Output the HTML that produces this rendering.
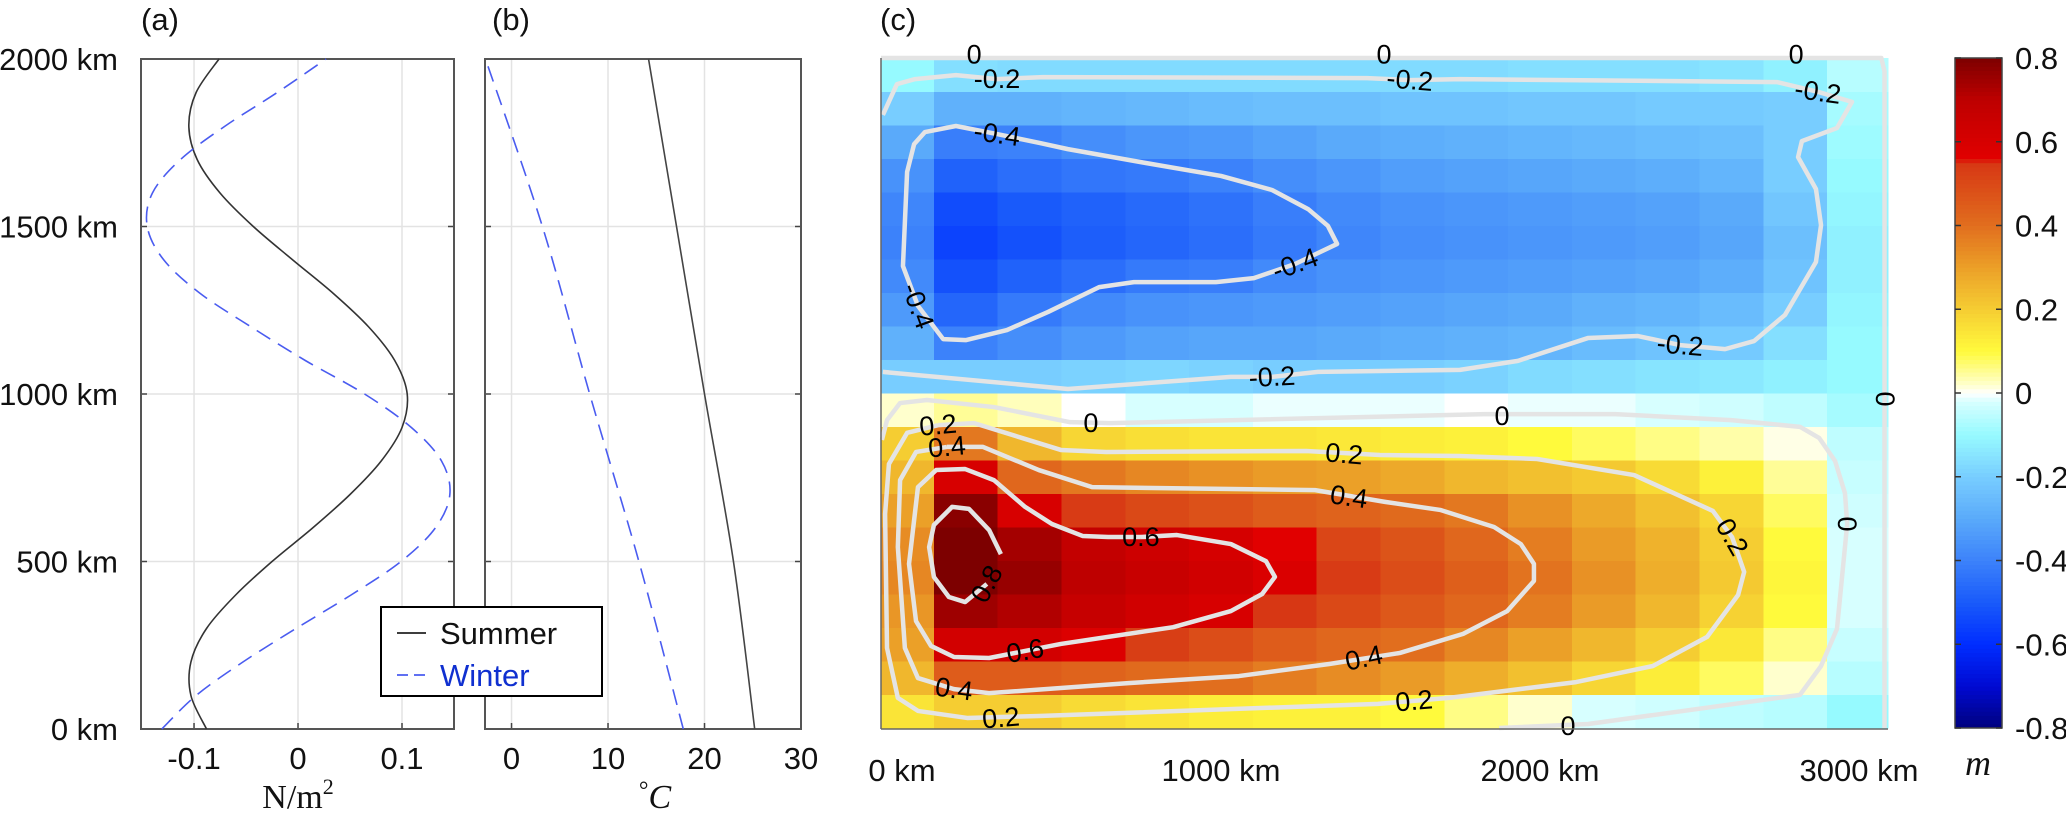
<!DOCTYPE html>
<html><head><meta charset="utf-8"><style>
html,body{margin:0;padding:0;background:#fff;}
svg{display:block;font-family:"Liberation Sans",Arial,sans-serif;}
</style></head><body>
<svg id="fig" width="2066" height="822" viewBox="0 0 2066 822" xmlns="http://www.w3.org/2000/svg">
<g id="pa"></g>
<g id="pb"></g>
<g id="pc"></g>
<g id="cb"></g>
</svg>
<script>
// ---------- Panel a data ----------
const yKm = [0,100,200,300,400,500,600,700,800,900,1000,1100,1200,1300,1400,1500,1600,1700,1800,1900,2000];
const stressSummer = [-0.088,-0.103,-0.103,-0.088,-0.06,-0.025,0.014,0.05,0.08,0.1,0.105,0.093,0.068,0.034,-0.005,-0.043,-0.075,-0.097,-0.105,-0.098,-0.076];
const stressWinter = [-0.131,-0.098,-0.053,-0.002,0.051,0.099,0.132,0.146,0.138,0.109,0.064,0.007,-0.045,-0.094,-0.129,-0.145,-0.14,-0.113,-0.07,-0.02,0.027];
const stressTicks = [-0.1,0,0.1];
const stressTickLabels = ["-0.1","0","0.1"];
const yTicks = [0,500,1000,1500,2000];
const yTickLabels = ["0 km","500 km","1000 km","1500 km","2000 km"];
// ---------- Panel b data ----------
const tempY = [0,500,1000,1500,2000];
const tempSummer = [25.2,23.0,20.0,17.1,14.2];
const tempWinter = [17.8,13.2,8.1,3.2,-2.7];
const tempTicks = [0,10,20,30];
const tempTickLabels = ["0","10","20","30"];
// ---------- Panel c data ----------
const gridX = [0,200,400,600,800,1000,1200,1400,1600,1800,2000,2200,2400,2600,2800,3000];
const gridY = [50,150,250,350,450,550,650,750,850,950,1050,1150,1250,1350,1450,1550,1650,1750,1850,1950];
const row0050 = [0.15,0.2,0.2,0.17,0.15,0.13,0.12,0.12,0.1,0.06,0.02,-0.02,-0.03,-0.05,-0.06,-0.1];
const row0150 = [0.25,0.45,0.45,0.43,0.41,0.4,0.37,0.34,0.31,0.27,0.23,0.18,0.13,0.08,0.02,-0.06];
const row0250 = [0.3,0.62,0.62,0.58,0.53,0.49,0.45,0.42,0.4,0.35,0.3,0.25,0.2,0.14,0.06,-0.04];
const row0350 = [0.32,0.75,0.72,0.67,0.63,0.6,0.55,0.5,0.46,0.42,0.37,0.31,0.25,0.19,0.1,-0.02];
const row0450 = [0.35,0.85,0.76,0.7,0.66,0.63,0.59,0.54,0.49,0.44,0.39,0.33,0.27,0.21,0.11,-0.02];
const row0550 = [0.34,0.85,0.74,0.68,0.64,0.61,0.56,0.51,0.47,0.42,0.37,0.31,0.26,0.2,0.1,-0.02];
const row0650 = [0.3,0.78,0.6,0.54,0.5,0.48,0.45,0.43,0.41,0.38,0.33,0.28,0.23,0.18,0.08,-0.03];
const row0750 = [0.25,0.6,0.42,0.38,0.35,0.33,0.31,0.3,0.28,0.25,0.23,0.21,0.17,0.12,0.05,-0.04];
const row0850 = [0.2,0.38,0.25,0.18,0.16,0.15,0.15,0.14,0.13,0.12,0.1,0.08,0.06,0.04,0.01,-0.05];
const row0950 = [0.02,0.05,0.03,0.0,-0.02,-0.02,-0.01,-0.01,-0.01,0.0,-0.01,-0.01,-0.02,-0.03,-0.05,-0.08];
const row1050 = [-0.2,-0.2,-0.2,-0.19,-0.18,-0.19,-0.2,-0.2,-0.2,-0.19,-0.17,-0.16,-0.15,-0.14,-0.12,-0.1];
const row1150 = [-0.28,-0.4,-0.37,-0.34,-0.32,-0.31,-0.31,-0.3,-0.29,-0.28,-0.27,-0.25,-0.23,-0.21,-0.16,-0.1];
const row1250 = [-0.34,-0.47,-0.42,-0.38,-0.36,-0.35,-0.34,-0.33,-0.32,-0.31,-0.3,-0.28,-0.27,-0.25,-0.2,-0.11];
const row1350 = [-0.38,-0.52,-0.48,-0.45,-0.42,-0.41,-0.38,-0.36,-0.35,-0.34,-0.33,-0.32,-0.31,-0.29,-0.23,-0.12];
const row1450 = [-0.4,-0.55,-0.52,-0.49,-0.47,-0.45,-0.42,-0.39,-0.37,-0.36,-0.35,-0.34,-0.33,-0.31,-0.24,-0.12];
const row1550 = [-0.39,-0.53,-0.5,-0.48,-0.46,-0.44,-0.41,-0.38,-0.36,-0.35,-0.34,-0.33,-0.32,-0.3,-0.22,-0.11];
const row1650 = [-0.36,-0.48,-0.45,-0.43,-0.42,-0.4,-0.37,-0.35,-0.33,-0.32,-0.31,-0.3,-0.29,-0.27,-0.2,-0.1];
const row1750 = [-0.3,-0.41,-0.4,-0.37,-0.35,-0.34,-0.32,-0.3,-0.29,-0.28,-0.27,-0.26,-0.25,-0.24,-0.2,-0.09];
const row1850 = [-0.2,-0.28,-0.28,-0.27,-0.26,-0.25,-0.24,-0.24,-0.23,-0.23,-0.22,-0.22,-0.21,-0.21,-0.2,-0.08];
const row1950 = [-0.1,-0.16,-0.17,-0.17,-0.17,-0.17,-0.17,-0.17,-0.17,-0.17,-0.16,-0.16,-0.16,-0.15,-0.12,-0.06];
const xTicksC = [0,1000,2000,3000];
const xTickLabelsC = ["0 km","1000 km","2000 km","3000 km"];
const cbTicks = [-0.8,-0.6,-0.4,-0.2,0,0.2,0.4,0.6,0.8];
const cbTickLabels = ["-0.8","-0.6","-0.4","-0.2","0","0.2","0.4","0.6","0.8"];
// contours (km coords)
const cNeg04 = [[298,1773],[169,1797],[72,1779],[38,1743],[16,1660],[3,1379],[50,1260],[129,1161],[201,1158],[329,1188],[458,1242],[618,1316],[727,1331],[984,1331],[1103,1343],[1232,1385],[1364,1445],[1335,1499],[1273,1549],[1160,1606],[1000,1648],[762,1687],[520,1728],[433,1746],[298,1773]];
const cNeg02 = [[-60,1830],[-16,1922],[41,1937],[169,1949],[298,1937],[442,1943],[1458,1940],[1592,1934],[1749,1937],[2743,1928],[2871,1899],[2978,1869],[2931,1791],[2821,1752],[2809,1704],[2865,1609],[2881,1501],[2865,1391],[2768,1233],[2671,1155],[2580,1131],[2439,1143],[2307,1170],[2150,1164],[1931,1096],[1749,1069],[1304,1063],[1160,1048],[1031,1048],[520,1012],[-60,1063]];
const cZeroLow = [[-63,860],[-47,919],[-6,970],[78,979],[288,958],[527,913],[652,910],[1828,937],[1944,937],[2235,937],[2599,919],[2815,899],[2875,866],[2925,797],[2956,701],[2963,609],[2931,296],[2881,185],[2815,99],[2151,12],[1872,0]];
const cZeroTop = [[-66,2000],[3070,2000],[3080,1960],[3080,0]];
const cPos02 = [[113,904],[226,910],[498,830],[640,824],[1267,827],[1498,815],[1749,812],[1991,803],[2295,755],[2542,648],[2602,570],[2640,466],[2621,397],[2524,272],[2354,185],[2113,137],[1715,90],[1492,72],[429,36],[204,30],[50,51],[-13,90],[-47,239],[-53,639],[-41,788],[16,881],[113,904]];
const cPos04 = [[141,839],[254,839],[429,770],[596,719],[1295,710],[1514,675],[1687,651],[1856,600],[1940,549],[1981,490],[1981,439],[1897,349],[1759,281],[1561,224],[1339,191],[1056,155],[709,134],[273,104],[163,116],[50,149],[9,239],[-13,540],[-6,740],[44,824],[141,839]];
const cPos06 = [[749,570],[862,576],[1031,549],[1141,498],[1169,451],[1129,400],[1031,349],[850,301],[498,251],[386,230],[273,209],[163,212],[91,245],[44,319],[22,490],[50,719],[107,770],[198,773],[288,740],[386,660],[470,609],[567,573],[646,570],[749,570]];
const cPos08 = [[266,430],[198,376],[147,391],[100,451],[85,540],[100,606],[157,660],[210,654],[273,591],[310,519]];
const labelPos = [[298,1937,-0],[1592,1934,5],[2871,1899,8],[1160,1048,-3],[2439,1143,5],[298,1773,8],[1232,1385,-20],[50,1260,70],[226,2010,0],[1511,2010,0],[2803,2010,0],[592,910,0],[1881,931,0],[2963,609,90],[3082,982,90],[2088,6,0],[113,904,-5],[1386,818,5],[2602,570,60],[1605,81,-5],[310,30,-5],[141,839,-5],[1401,690,8],[1448,209,-12],[163,116,8],[749,570,0],[386,230,-10],[266,430,-62]];
const labelText = ["-0.2","-0.2","-0.2","-0.2","-0.2","-0.4","-0.4","-0.4","0","0","0","0","0","0","0","0","0.2","0.2","0.2","0.2","0.2","0.4","0.4","0.4","0.4","0.6","0.6","0.8"];

const NS="http://www.w3.org/2000/svg";
function mk(parent,tag,attrs,text){const e=document.createElementNS(NS,tag);for(const k in attrs)e.setAttribute(k,attrs[k]);if(text!==undefined)e.textContent=text;parent.appendChild(e);return e;}
function smoothPath(pts){let d='M'+pts[0][0]+','+pts[0][1];for(let i=0;i<pts.length-1;i++){const p0=pts[Math.max(0,i-1)],p1=pts[i],p2=pts[i+1],p3=pts[Math.min(pts.length-1,i+2)];const c1=[p1[0]+(p2[0]-p0[0])/6,p1[1]+(p2[1]-p0[1])/6],c2=[p2[0]-(p3[0]-p1[0])/6,p2[1]-(p3[1]-p1[1])/6];d+=' C'+c1[0]+','+c1[1]+' '+c2[0]+','+c2[1]+' '+p2[0]+','+p2[1];}return d;}

const yTop=59,yBot=729;
function yA(v){return yBot-(v/2000)*(yBot-yTop);}

// ---------- Panel a ----------
(function(){
  const g=document.getElementById('pa');
  const L=141,R=454,xmin=-0.151,xmax=0.15;
  const xA=v=>L+(v-xmin)/(xmax-xmin)*(R-L);
  stressTicks.forEach((t,i)=>{
    const gl=mk(g,'line',{x1:xA(t),x2:xA(t),y1:yTop,y2:yBot,stroke:'#e3e3e3','stroke-width':1.5});
    
    
    const tl=mk(g,'text',{x:xA(t),y:769,'font-size':31,'text-anchor':'middle',fill:'#111'},stressTickLabels[i]);
    
    
    mk(g,'line',{x1:xA(t),x2:xA(t),y1:yBot,y2:yBot-6,stroke:'#444','stroke-width':1.5});
  });
  yTicks.forEach((t,i)=>{
    if(t>0&&t<2000){const gl=mk(g,'line',{x1:L,x2:R,y1:yA(t),y2:yA(t),stroke:'#e3e3e3','stroke-width':1.5});
    
    }
    const tl=mk(g,'text',{x:118,y:yA(t)+11,'font-size':31,'text-anchor':'end',fill:'#111'},yTickLabels[i]);
    
    
    mk(g,'line',{x1:L,x2:L+6,y1:yA(t),y2:yA(t),stroke:'#444','stroke-width':1.5});
    mk(g,'line',{x1:R,x2:R-6,y1:yA(t),y2:yA(t),stroke:'#444','stroke-width':1.5});
  });
  const fr=mk(g,'rect',{x:L,y:yTop,width:R-L,height:yBot-yTop,fill:'none',stroke:'#555','stroke-width':2});
  
  
  const ps=mk(g,'path',{d:smoothPath(yKm.map((y,i)=>[xA(stressSummer[i]),yA(y)])),fill:'none',stroke:'#333','stroke-width':1.6});
  
  
  const pw=mk(g,'path',{d:smoothPath(yKm.map((y,i)=>[xA(stressWinter[i]),yA(y)])),fill:'none',stroke:'#4a5cf0','stroke-width':1.6,'stroke-dasharray':'16,9'});
  
  
  const lab=mk(g,'text',{x:141,y:30,'font-size':31,fill:'#111'},'(a)');
  
  
  const xt=mk(g,'text',{x:298,y:808,'font-size':34,'text-anchor':'middle','font-family':'Liberation Serif,serif',fill:'#111'});
  
  
  xt.innerHTML='N/m<tspan font-size="22" dy="-14">2</tspan>';
})();

// ---------- Panel b ----------
(function(){
  const g=document.getElementById('pb');
  const L=485,R=801,xmin=-2.75,xmax=30;
  const xB=v=>L+(v-xmin)/(xmax-xmin)*(R-L);
  tempTicks.forEach((t,i)=>{
    if(t<30){const gl=mk(g,'line',{x1:xB(t),x2:xB(t),y1:yTop,y2:yBot,stroke:'#e3e3e3','stroke-width':1.5});
    
    }
    const tl=mk(g,'text',{x:xB(t),y:769,'font-size':31,'text-anchor':'middle',fill:'#111'},tempTickLabels[i]);
    
    
    mk(g,'line',{x1:xB(t),x2:xB(t),y1:yBot,y2:yBot-6,stroke:'#444','stroke-width':1.5});
  });
  yTicks.forEach(t=>{
    if(t>0&&t<2000){mk(g,'line',{x1:L,x2:R,y1:yA(t),y2:yA(t),stroke:'#e3e3e3','stroke-width':1.5});}
    mk(g,'line',{x1:L,x2:L+6,y1:yA(t),y2:yA(t),stroke:'#444','stroke-width':1.5});
    mk(g,'line',{x1:R,x2:R-6,y1:yA(t),y2:yA(t),stroke:'#444','stroke-width':1.5});
  });
  const fr=mk(g,'rect',{x:L,y:yTop,width:R-L,height:yBot-yTop,fill:'none',stroke:'#555','stroke-width':2});
  
  
  const ps=mk(g,'path',{d:smoothPath(tempY.map((y,i)=>[xB(tempSummer[i]),yA(y)])),fill:'none',stroke:'#444','stroke-width':1.6});
  
  
  const pw=mk(g,'path',{d:smoothPath(tempY.map((y,i)=>[xB(tempWinter[i]),yA(y)])),fill:'none',stroke:'#4a5cf0','stroke-width':1.6,'stroke-dasharray':'16,9'});
  
  
  const lab=mk(g,'text',{x:492,y:30,'font-size':31,fill:'#111'},'(b)');
  
  
  const xt=mk(g,'text',{x:655,y:808,'font-size':34,'text-anchor':'middle','font-family':'Liberation Serif,serif',fill:'#111'});
  
  
  xt.innerHTML='<tspan font-size="24" dy="-10">°</tspan><tspan font-style="italic" dy="10">C</tspan>';
  const lg=mk(document.getElementById('fig'),'g',{});
  
  
  mk(lg,'rect',{x:381,y:607,width:221,height:89,fill:'#fff',stroke:'#000','stroke-width':2});
  mk(lg,'line',{x1:397,x2:426,y1:633,y2:633,stroke:'#222','stroke-width':1.8});
  const t1=mk(lg,'text',{x:440,y:644,'font-size':31,fill:'#111'},'Summer');
  
  
  mk(lg,'line',{x1:397,x2:426,y1:675,y2:675,stroke:'#4a5cf0','stroke-width':1.8,'stroke-dasharray':'11,6'});
  const t2=mk(lg,'text',{x:440,y:686,'font-size':31,fill:'#1030d0'},'Winter');
  
  
})();

// ---------- colormap ----------
const cmapStops=[[-0.8,[0,0,125]],[-0.7,[0,10,210]],[-0.6,[0,45,255]],[-0.5,[25,90,250]],[-0.4,[60,130,250]],[-0.3,[90,170,250]],[-0.2,[120,205,255]],[-0.1,[150,250,255]],[-0.02,[215,255,255]],[0,[255,255,255]],[0.02,[255,255,205]],[0.1,[255,250,60]],[0.2,[245,205,50]],[0.3,[235,160,40]],[0.4,[225,110,30]],[0.55,[215,55,20]],[0.56,[225,0,0]],[0.7,[190,0,0]],[0.8,[125,0,0]]];
function cmap(v){v=Math.max(-0.8,Math.min(0.8,v));for(let i=1;i<cmapStops.length;i++){const a=cmapStops[i-1],b=cmapStops[i];if(v<=b[0]){const t=(v-a[0])/(b[0]-a[0]);const c=a[1].map((x,k)=>Math.round(x+(b[1][k]-x)*t));return 'rgb('+c.join(',')+')';}}return 'rgb(125,0,0)';}

// ---------- Panel c ----------
(function(){
  const g=document.getElementById('pc');
  const xC=v=>902+v*0.319, yC=v=>728-v*0.335;
  const XMIN=-66,XMAX=3090;
  const rows=[row0050,row0150,row0250,row0350,row0450,row0550,row0650,row0750,row0850,row0950,row1050,row1150,row1250,row1350,row1450,row1550,row1650,row1750,row1850,row1950];
  const hm=mk(g,'g',{'shape-rendering':'crispEdges'});
  
  
  rows.forEach((row,j)=>{
    const y0=gridY[j]-50,y1=gridY[j]+50;
    row.forEach((v,i)=>{
      const x0=Math.max(XMIN,gridX[i]-100),x1=Math.min(XMAX,gridX[i]+100);
      const r=mk(hm,'rect',{x:xC(x0),y:yC(y1),width:xC(x1)-xC(x0)+0.6,height:yC(y0)-yC(y1)+0.6,fill:cmap(v)});
      
      
    });
  });
  const cs=[cNeg04,cNeg02,cZeroLow,cZeroTop,cPos02,cPos04,cPos06,cPos08];
  const cn=['contour-neg-0.4','contour-neg-0.2','contour-zero','contour-zero-edge','contour-0.2','contour-0.4','contour-0.6','contour-0.8'];
  cs.forEach((c,k)=>{
    const p=mk(g,'polyline',{points:c.map(q=>xC(Math.max(XMIN,Math.min(XMAX,q[0])))+','+yC(q[1])).join(' '),fill:'none',stroke:'#e4e4e4','stroke-width':4.5,'stroke-linejoin':'round'});
    
    
  });
  labelPos.forEach((p,i)=>{
    const x=xC(p[0]),y=yC(p[1]);
    const t=mk(g,'text',{x:x,y:y+9,'font-size':27,'text-anchor':'middle',fill:'#000',transform:'rotate('+p[2]+' '+x+' '+y+')'},labelText[i]);
    
    
  });
  mk(g,'line',{x1:881,x2:881,y1:58,y2:729,stroke:'#666','stroke-width':1.5});
  mk(g,'line',{x1:881,x2:1888,y1:729,y2:729,stroke:'#666','stroke-width':1.5});
  xTicksC.forEach((t,i)=>{
    const tl=mk(g,'text',{x:xC(t),y:781,'font-size':31,'text-anchor':'middle',fill:'#111'},xTickLabelsC[i]);
    
    
  });
  const lab=mk(g,'text',{x:880,y:30,'font-size':31,fill:'#111'},'(c)');
  
  
})();

// ---------- colorbar ----------
(function(){
  const g=document.getElementById('cb');
  const L=1955,R=2002,T=58,B=728;
  const yv=v=>B-(v+0.8)/1.6*(B-T);
  for(let k=0;k<160;k++){
    const v0=-0.8+k*0.01;
    mk(g,'rect',{x:L,y:yv(v0+0.01),width:R-L,height:yv(v0)-yv(v0+0.01)+0.5,fill:cmap(v0+0.005)});
  }
  const fr=mk(g,'rect',{x:L,y:T,width:R-L,height:B-T,fill:'none',stroke:'#444','stroke-width':1.5});
  
  
  cbTicks.forEach((t,i)=>{
    mk(g,'line',{x1:L,x2:L+6,y1:yv(t),y2:yv(t),stroke:'#333','stroke-width':1.5});
    mk(g,'line',{x1:R,x2:R-6,y1:yv(t),y2:yv(t),stroke:'#333','stroke-width':1.5});
    const tl=mk(g,'text',{x:2015,y:yv(t)+11,'font-size':31,fill:'#111'},cbTickLabels[i]);
    
    
  });
  const tt=mk(g,'text',{x:1978,y:775,'font-size':36,'text-anchor':'middle','font-style':'italic','font-family':'Liberation Serif,serif',fill:'#111'},'m');
  
  
})();
</script>
</body></html>
